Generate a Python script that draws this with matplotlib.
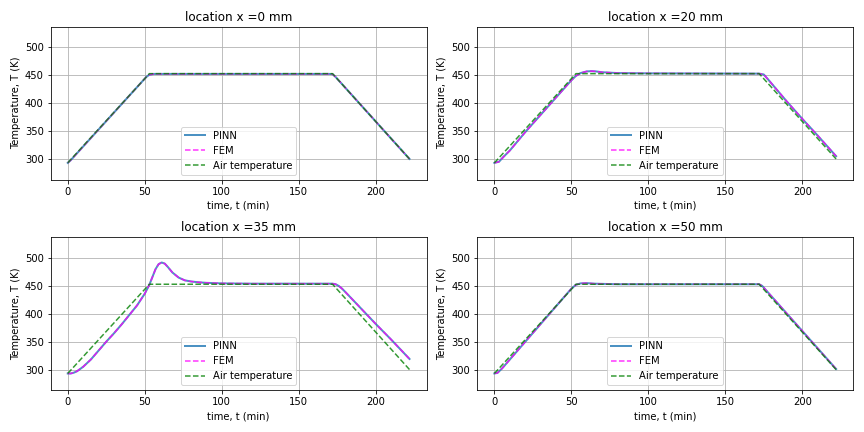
import matplotlib
matplotlib.use('Agg')
import matplotlib.pyplot as plt
import numpy as np

# air temperature profile (oven cycle)
t_air = [0, 53, 172, 222]
T_air = [293, 453, 453, 300]

# x = 0 mm
t_0 = [0, 2, 51, 53, 56, 170, 172, 174, 222]
T_0 = [293, 298, 447, 451, 452.5, 452.5, 452, 447, 300]

# x = 20 mm
t_20 = [0, 3, 6, 10, 20, 30, 40, 50, 53, 56, 60, 63, 66, 70, 80, 100, 172, 175, 178, 182, 190, 200, 210, 222]
T_20 = [293, 295, 304, 315, 348, 379, 410, 441, 449, 454, 457, 457.5, 457, 455.5, 454, 453.5, 453, 451.5, 442, 429, 403, 372, 342, 305]

# x = 35 mm
t_35 = [0, 2, 4, 6, 10, 15, 20, 25, 30, 35, 40, 45, 50, 53, 55, 57, 59, 61, 63, 65, 68, 72, 76, 80, 85, 90,
        100, 120, 150, 172, 174, 176, 178, 180, 185, 190, 200, 210, 222]
T_35 = [293, 293, 294.5, 297, 305, 318, 334, 350, 365, 381, 398, 415, 436, 452, 466, 480, 489, 492, 490, 484,
        474, 465, 460, 458, 456.5, 455.5, 454.5, 454, 454, 454, 453, 450, 445.5, 440, 425.5, 411, 382, 354, 319]

# x = 50 mm
t_50 = [0, 2, 5, 50, 53, 56, 60, 65, 80, 172, 174, 222]
T_50 = [293, 294, 302, 445, 452, 454.5, 455, 454, 453, 453, 450, 301]

locations = [0, 20, 35, 50]
pinn_t = [t_0, t_20, t_35, t_50]
pinn_T = [T_0, T_20, T_35, T_50]
# FEM curves lie on top of the PINN ones
fem_t = pinn_t
fem_T = pinn_T

fig, axes = plt.subplots(2, 2, figsize=(12, 6), dpi=72)

for ax, loc, tp, Tp, tf, Tf in zip(axes.flat, locations, pinn_t, pinn_T, fem_t, fem_T):
    ax.plot(tp, Tp, color='C0', lw=2, alpha=0.8, label='PINN')
    ax.plot(tf, Tf, '--', color='magenta', lw=1.5, alpha=0.8, label='FEM')
    ax.plot(t_air, T_air, 'g--', lw=1.5, alpha=0.8, label='Air temperature')
    ax.set_title('location x =' + str(loc) + ' mm')
    ax.set_xlabel('time, t (min)')
    ax.set_ylabel('Temperature, T (K)')
    ax.set_ylim(263, 537)
    ax.set_yticks(np.arange(300, 501, 50))
    ax.grid(True)
    ax.legend(loc='lower center')

plt.tight_layout()
plt.savefig('out.png', dpi=72)
